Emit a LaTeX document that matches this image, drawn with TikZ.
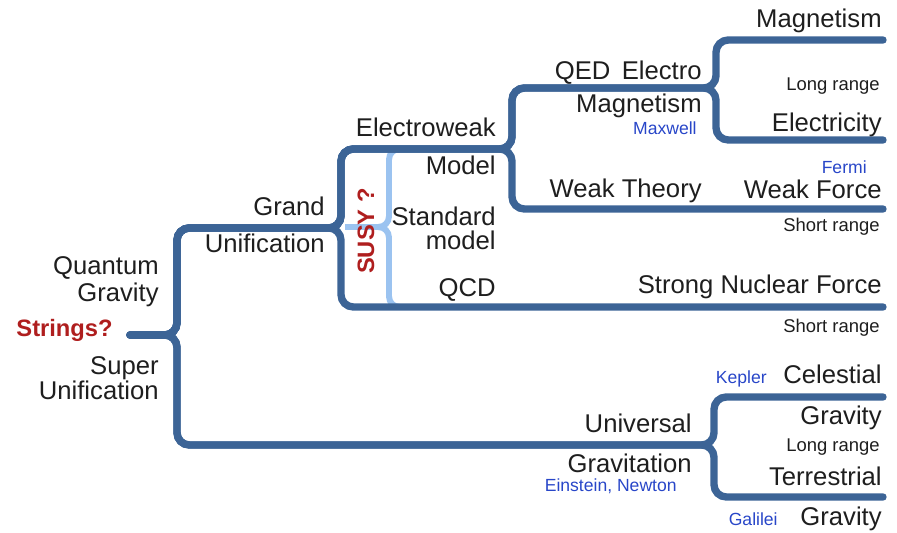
\documentclass[tikz,border=0pt]{standalone}
\usepackage{fontspec}
\setmainfont{Liberation Sans}
\usepackage{tikz}
\definecolor{branchblue}{RGB}{60,100,150}
\definecolor{susyblue}{RGB}{155,195,240}
\definecolor{questred}{RGB}{175,30,30}
\definecolor{namesblue}{RGB}{40,70,200}
\definecolor{textgray}{RGB}{30,30,30}
\tikzset{
    branch/.style={draw=branchblue, line width=4.2pt, line cap=round, rounded corners=7pt},
    susyline/.style={draw=susyblue, line width=3.4pt, rounded corners=6pt},
    force/.style={anchor=base east, inner sep=0pt, text=textgray, font=\fontsize{14.6}{16}\selectfont},
    rangetext/.style={force, font=\fontsize{10.5}{12}\selectfont},
    physicist/.style={anchor=base east, inner sep=0pt, text=namesblue, font=\fontsize{10}{12}\selectfont},
    question/.style={anchor=base east, inner sep=0pt, text=questred, font=\bfseries\fontsize{13.5}{16}\selectfont},
}

\begin{document}
\begin{tikzpicture}[x=0.02cm, y=-0.02cm]
            \useasboundingbox (0, 0) rectangle (897, 533);
            % coordinates
            \coordinate (strings-end) at (130, 335);
            \coordinate (root) at (177, 335);
            \coordinate (grand) at (341, 228);
            \coordinate (electroweak) at (512, 149);
            \coordinate (qed) at (716, 88);
            \coordinate (magnetism-end) at (883, 40);
            \coordinate (electricity-end) at (883, 140);
            \coordinate (weak-end) at (883, 209);
            \coordinate (strong-end) at (883, 307);
            \coordinate (gravitation) at (714, 445);
            \coordinate (celestial-end) at (883, 397);
            \coordinate (terrestrial-end) at (883, 497);
            \coordinate (susy-start) at (345, 227);
            \coordinate (susy-mid) at (389, 227);
            \coordinate (susy-top) at (412, 149);
            \coordinate (susy-bottom) at (412, 307);
            % susy bracket (under the branches)
            \draw[susyline] (susy-start) -- (susy-mid) |- (susy-top);
            \draw[susyline] (susy-start) -- (susy-mid) |- (susy-bottom);
            % electro magnetism
            \draw[branch] (strings-end) -- (root) |- (grand) |- (electroweak) |- (qed) |- (magnetism-end);
            \draw[branch] (strings-end) -- (root) |- (grand) |- (electroweak) |- (qed) |- (electricity-end);
            % weak force
            \draw[branch] (strings-end) -- (root) |- (grand) |- (electroweak) |- (weak-end);
            % strong force
            \draw[branch] (strings-end) -- (root) |- (grand) |- (strong-end);
            % gravity
            \draw[branch] (strings-end) -- (root) |- (gravitation) |- (celestial-end);
            \draw[branch] (strings-end) -- (root) |- (gravitation) |- (terrestrial-end);
            % root labels
            \node[question] (strings) at (113, 337) {Strings?};
            \node[force] (quantum) at (159, 275) {Quantum};
            \node[force] (quantum-gravity) at (159, 302) {Gravity};
            \node[force] (super) at (159, 375) {Super};
            \node[force] (super-unification) at (159, 400) {Unification};
            % grand unification labels
            \node[force] (grand-label) at (325, 216) {Grand};
            \node[force] (grand-unification) at (325, 253) {Unification};
            \node[text=questred, font=\bfseries\fontsize{13.5}{16}\selectfont, rotate=90, inner sep=0pt] (susy) at (366, 231) {SUSY ?};
            % standard model labels
            \node[force] (electroweak-label) at (496, 137) {Electroweak};
            \node[force] (model) at (496, 175) {Model};
            \node[force] (standard) at (496, 226) {Standard};
            \node[force] (standard-model) at (496, 250) {model};
            \node[force] (qcd) at (496, 297) {QCD};
            % electroweak labels
            \node[force] (qed-label) at (702, 80) {QED\, Electro};
            \node[force] (qed-magnetism) at (702, 113) {Magnetism};
            \node[physicist] (maxwell) at (697, 135) {Maxwell};
            \node[force] (weak-theory) at (702, 198) {Weak Theory};
            % forces
            \node[force] (magnetism) at (882, 28) {Magnetism};
            \node[rangetext] (long-range-em) at (880, 91) {Long range};
            \node[force] (electricity) at (882, 132) {Electricity};
            \node[physicist] (fermi) at (867, 174) {Fermi};
            \node[force] (weak-force) at (882, 199) {Weak Force};
            \node[rangetext] (short-range-weak) at (880, 232) {Short range};
            \node[force] (strong) at (882, 294) {Strong Nuclear Force};
            \node[rangetext] (short-range-strong) at (880, 333) {Short range};
            % gravitation labels
            \node[force] (universal) at (692, 433) {Universal};
            \node[force] (gravitation-label) at (692, 473) {Gravitation};
            \node[physicist] (einstein-newton) at (677, 492) {Einstein, Newton};
            \node[physicist] (kepler) at (767, 384) {Kepler};
            \node[force] (celestial) at (882, 384) {Celestial};
            \node[force] (celestial-gravity) at (882, 425) {Gravity};
            \node[rangetext] (long-range-grav) at (880, 452) {Long range};
            \node[force] (terrestrial) at (882, 486) {Terrestrial};
            \node[physicist] (galilei) at (778, 526) {Galilei};
            \node[force] (terrestrial-gravity) at (882, 526) {Gravity};
\end{tikzpicture}
\end{document}
